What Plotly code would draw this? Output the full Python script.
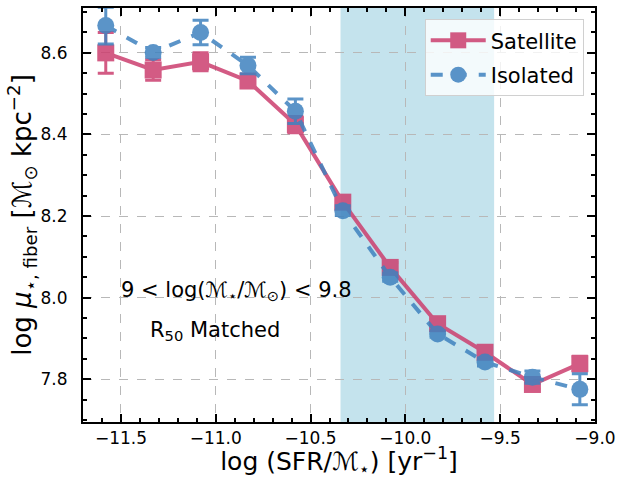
import plotly.graph_objects as go

x_bins = [-11.58, -11.33, -11.08, -10.83, -10.58, -10.33, -10.08, -9.83, -9.58, -9.33, -9.08]
sat_y = [8.600, 8.558, 8.578, 8.531, 8.424, 8.234, 8.074, 7.936, 7.866, 7.787, 7.838]
sat_err = [0.050, 0.025, 0.022, 0.012, 0.020, 0.015, 0.012, 0.010, 0.010, 0.012, 0.018]
iso_y = [8.667, 8.601, 8.650, 8.569, 8.457, 8.213, 8.050, 7.911, 7.842, 7.805, 7.775]
iso_err = [0.045, 0.012, 0.030, 0.020, 0.030, 0.012, 0.010, 0.008, 0.010, 0.015, 0.038]
shade_range = [-10.342, -9.532]

sat_color = "#cc3f6f"
iso_color = "#3f82bf"

fig = go.Figure()
fig.add_vrect(x0=shade_range[0], x1=shade_range[1], fillcolor="#add8e6", opacity=0.72,
              line_width=0, layer="below")

fig.add_trace(go.Scatter(
    x=x_bins, y=sat_y, name="Satellite", mode="lines+markers", legendgroup="s",
    line=dict(color=sat_color, width=4),
    marker=dict(symbol="square", size=17, color=sat_color),
    error_y=dict(type="data", array=sat_err, color=sat_color, thickness=3, width=8),
    opacity=0.85))
fig.add_trace(go.Scatter(
    x=x_bins, y=iso_y, name="Isolated", mode="lines+markers", legendgroup="i",
    line=dict(color=iso_color, width=4, dash="dash"),
    marker=dict(symbol="circle", size=17, color=iso_color),
    error_y=dict(type="data", array=iso_err, color=iso_color, thickness=3, width=8),
    opacity=0.85))

axis_common = dict(
    showline=True, linewidth=2, linecolor="black", mirror="allticks",
    ticks="inside", ticklen=8, tickwidth=2, tickcolor="black",
    showgrid=True, gridcolor="#b8b8b8", griddash="dash", gridwidth=1,
    zeroline=False, tickfont=dict(size=17, color="black", family="DejaVu Sans"),
)

fig.update_xaxes(range=[-11.7, -9.0], dtick=0.5, tickformat=".1f",
                 minor=dict(ticks="inside", dtick=0.1, ticklen=4, tickwidth=1.5, tickcolor="black", showgrid=False),
                 title=dict(text="log (SFR/ℳ<sub>⋆</sub>) [yr<sup>−1</sup>]", font=dict(size=25, family="DejaVu Sans", color="black"), standoff=5),
                 **axis_common)
fig.update_yaxes(range=[7.695, 8.71], dtick=0.2, tickformat=".1f", ticklabelstandoff=10,
                 minor=dict(ticks="inside", dtick=0.05, ticklen=4, tickwidth=1.5, tickcolor="black", showgrid=False),
                 title=dict(text="log <i>μ</i><sub>⋆, fiber</sub> [ℳ<sub>⊙</sub> kpc<sup>−2</sup>]", font=dict(size=26, family="DejaVu Sans", color="black"), standoff=0),
                 **axis_common)

fig.add_annotation(x=-10.89, y=8.017, xref="x", yref="y", showarrow=False,
                   text="9 < log(ℳ<sub>⋆</sub>/ℳ<sub>⊙</sub>) < 9.8",
                   font=dict(size=21, family="DejaVu Sans", color="black"))
fig.add_annotation(x=-11.005, y=7.919, xref="x", yref="y", showarrow=False,
                   text="R<sub>50</sub> Matched",
                   font=dict(size=21, family="DejaVu Sans", color="black"))

fig.update_layout(
    width=618, height=479,
    margin=dict(l=83, r=23, t=8, b=57, autoexpand=False),
    plot_bgcolor="white", paper_bgcolor="white",
    font=dict(family="DejaVu Sans", color="black"),
    legend=dict(x=0.978, y=0.973, xanchor="right", yanchor="top",
                bgcolor="rgba(255,255,255,0.8)", bordercolor="#d0d0d0", borderwidth=1,
                font=dict(size=21, family="DejaVu Sans", color="black"),
                traceorder="grouped", tracegroupgap=4, itemwidth=55),
    showlegend=True,
)

fig.write_html("out.html", config={"displayModeBar": False},
               post_script="document.body.style.margin='0';document.body.style.padding='0';")
